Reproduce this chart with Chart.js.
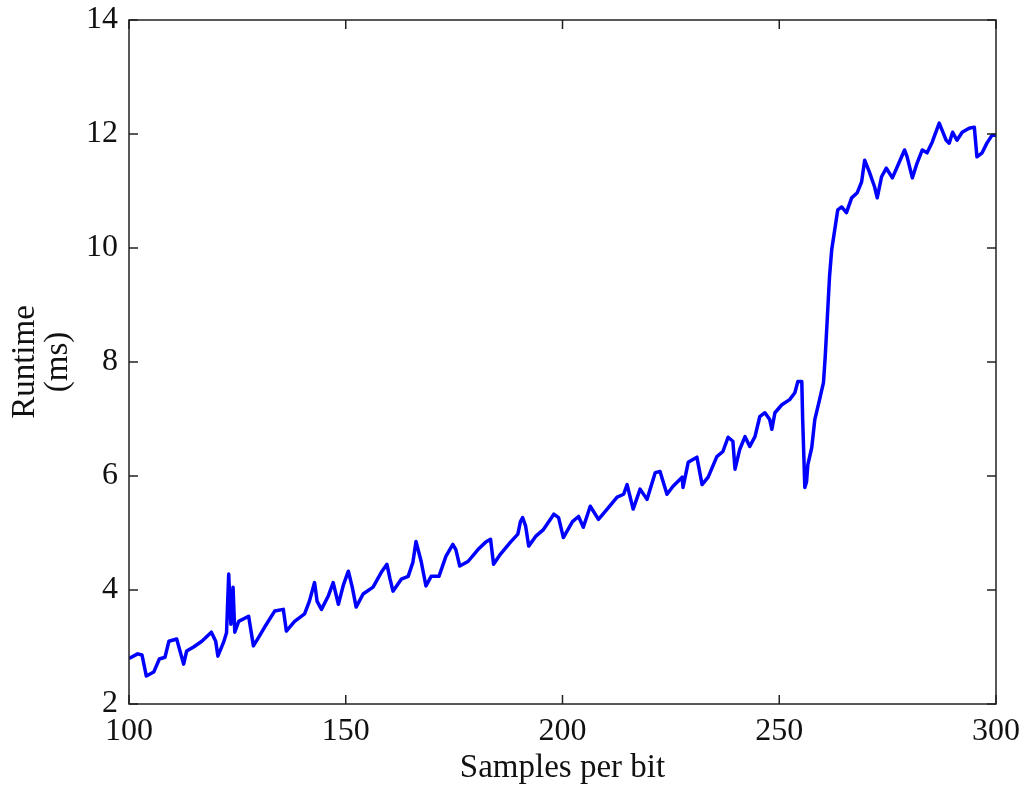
<!DOCTYPE html>
<html><head><meta charset="utf-8">
<script src="https://cdn.jsdelivr.net/npm/chart.js@4"></script>
<style>html,body{margin:0;padding:0;background:#fff;}#wrap{width:1028px;height:788px;}</style>
</head><body><div id="wrap"><canvas id="c" width="1028" height="788"></canvas></div>
<script>
const samples = [100,102,103,104,105.7,107,108.3,109.2,111,112.6,113.3,114.9,116.8,119,120,120.5,121.8,122.5,123,123.5,124,124.4,125.3,127.6,128.7,129.9,131.3,133.6,135.6,136.3,138.2,140.5,141.6,142.8,143.4,144.4,146,147.1,148.3,149.5,150.6,151.5,152.4,154,156.3,158.2,159.5,160.2,160.9,162.8,164.4,165.5,166.2,167.4,168.5,169.7,171.5,173.1,174.7,175.4,176.3,178.2,180.5,182.3,183.4,184.1,185.7,188,189.7,190.3,190.8,191.5,192.2,193.8,195.6,198,199.1,200.2,202.3,203.7,204.8,206.4,208.3,210.3,212.6,214.1,214.9,216.3,217.9,219.5,221.4,222.5,224.1,225.5,227.6,227.8,229,231,232.2,233.6,235.6,237,238.2,239.3,239.8,240.9,242.1,243.2,244.4,245.5,246.7,247.8,248.3,249,250.6,252.4,253.6,254.3,255.2,255.4,255.9,256.3,256.6,257.5,258.2,259.3,260.2,260.6,261.1,261.6,262.1,262.8,263.5,264.4,265.5,266.7,268,269,269.7,270.8,272,272.6,273.6,274.7,276.1,277.2,278.9,279.5,280.7,281.8,283,284.1,285.3,286.9,288.5,289.2,290,291,292.2,293.8,295,295.6,296.8,297.9,299.1,300];
const runtime = [2.80,2.88,2.86,2.49,2.56,2.79,2.82,3.10,3.14,2.70,2.93,3.00,3.10,3.26,3.10,2.84,3.08,3.25,4.28,3.40,4.05,3.26,3.45,3.54,3.02,3.17,3.35,3.63,3.66,3.28,3.45,3.58,3.80,4.13,3.80,3.66,3.90,4.13,3.75,4.10,4.33,4.05,3.70,3.93,4.05,4.31,4.45,4.20,3.98,4.19,4.24,4.49,4.85,4.50,4.07,4.24,4.24,4.59,4.80,4.71,4.42,4.50,4.71,4.84,4.89,4.45,4.63,4.84,4.98,5.20,5.27,5.12,4.77,4.94,5.06,5.33,5.27,4.92,5.20,5.29,5.10,5.47,5.24,5.42,5.63,5.68,5.85,5.42,5.77,5.59,6.06,6.08,5.68,5.82,5.98,5.80,6.24,6.33,5.85,5.98,6.34,6.43,6.68,6.61,6.12,6.47,6.69,6.52,6.69,7.04,7.11,6.99,6.82,7.11,7.25,7.34,7.46,7.66,7.66,7.00,5.80,5.90,6.20,6.50,6.99,7.34,7.64,8.09,8.79,9.50,9.97,10.32,10.67,10.72,10.62,10.88,10.97,11.16,11.54,11.33,11.07,10.88,11.25,11.40,11.23,11.42,11.72,11.60,11.23,11.49,11.72,11.67,11.86,12.19,11.89,11.84,12.03,11.89,12.03,12.10,12.12,11.60,11.67,11.84,11.98,11.98];
const xTicks = [100,150,200,250,300];
const yTicks = [2,4,6,8,10,12,14];
const xTitle = 'Samples per bit';
const yTitle = ['Runtime','(ms)'];

const FONT = '"Liberation Serif", "DejaVu Serif", serif';

const boxTicks = {
  id: 'boxTicks',
  afterDraw(chart) {
    const ctx = chart.ctx, a = chart.chartArea;
    const xs = chart.scales.x, ys = chart.scales.y;
    ctx.save();
    ctx.strokeStyle = '#222';
    ctx.lineWidth = 1.5;
    ctx.strokeRect(a.left, a.top, a.right - a.left, a.bottom - a.top);
    const L = 9;
    ctx.beginPath();
    xTicks.forEach(v => {
      const p = xs.getPixelForValue(v);
      ctx.moveTo(p, a.bottom); ctx.lineTo(p, a.bottom - L);
      ctx.moveTo(p, a.top); ctx.lineTo(p, a.top + L);
    });
    yTicks.forEach(v => {
      const p = ys.getPixelForValue(v);
      ctx.moveTo(a.left, p); ctx.lineTo(a.left + L, p);
      ctx.moveTo(a.right, p); ctx.lineTo(a.right - L, p);
    });
    ctx.stroke();
    ctx.restore();
  }
};

new Chart(document.getElementById('c'), {
  type: 'line',
  data: {
    datasets: [{
      data: samples.map((s, i) => ({x: s, y: runtime[i]})),
      borderColor: '#0000ff',
      borderWidth: 3.5,
      borderJoinStyle: 'round',
      pointRadius: 0,
      tension: 0,
      fill: false
    }]
  },
  options: {
    responsive: false,
    animation: false,
    devicePixelRatio: 1,
    layout: {padding: {top: 20, right: 32, left: 0, bottom: 0}},
    plugins: {legend: {display: false}, tooltip: {enabled: false}},
    scales: {
      x: {
        type: 'linear', min: 100, max: 300,
        afterBuildTicks: s => { s.ticks = xTicks.map(v => ({value: v})); },
        afterFit: s => { s.height = 84; s.paddingLeft = 0; s.paddingRight = 0; },
        grid: {display: false, drawTicks: false},
        border: {display: false},
        ticks: {color: '#111', font: {family: FONT, size: 32}, padding: 8, maxRotation: 0},
        title: {display: true, text: xTitle, color: '#111', font: {family: FONT, size: 33}, padding: {top: 0, bottom: 0}}
      },
      y: {
        type: 'linear', min: 2, max: 14,
        afterBuildTicks: s => { s.ticks = yTicks.map(v => ({value: v})); },
        afterFit: s => { s.width = 129; s.paddingTop = 0; s.paddingBottom = 0; },
        grid: {display: false, drawTicks: false},
        border: {display: false},
        ticks: {color: '#111', font: {family: FONT, size: 32}, padding: 11},
        title: {display: true, text: yTitle, color: '#111', font: {family: FONT, size: 33, lineHeight: 1.0}, padding: {top: 9, bottom: 0}}
      }
    }
  },
  plugins: [boxTicks]
});
</script>
</body></html>
